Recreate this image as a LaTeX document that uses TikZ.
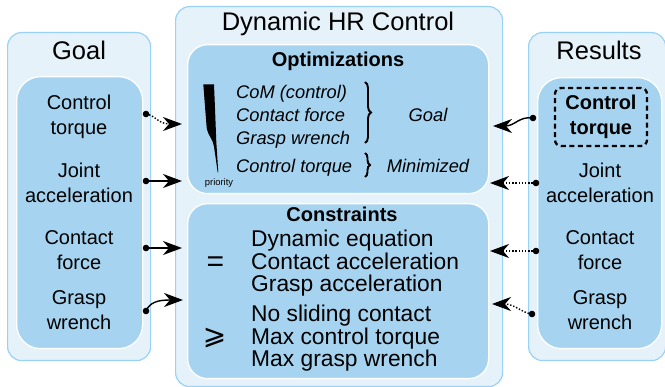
\documentclass[tikz,border=0pt]{standalone}
\usepackage{amssymb}
\usepackage{fontspec}
\setmainfont{Liberation Sans}
\newfontfamily\symfont{DejaVu Sans}
\usetikzlibrary{arrows.meta,decorations.pathreplacing}

\definecolor{panelfill}{HTML}{E6F2FA}
\definecolor{panelline}{HTML}{99D2F5}
\definecolor{cardfill}{HTML}{A6D4F0}

\begin{document}
\begin{tikzpicture}[x=1pt,y=-1pt,
  panel/.style={draw=panelline, fill=panelfill, line width=1.2pt,
    rounded corners=14pt, anchor=north west, inner sep=0pt},
  card/.style={draw=white, fill=cardfill, line width=1.3pt,
    rounded corners=24pt, anchor=north west, inner sep=0pt},
  heading/.style={font=\fontsize{25.5}{30}\selectfont, anchor=base, inner sep=0pt},
  item/.style={font=\fontsize{20}{25}\selectfont, align=center, anchor=base, inner sep=0pt},
  cardtitle/.style={font=\fontsize{20}{24}\selectfont\bfseries, anchor=base, inner sep=0pt},
  objective/.style={font=\fontsize{18.3}{23}\selectfont\itshape, align=left, anchor=base west, inner sep=0pt},
  tag/.style={font=\fontsize{18.3}{23}\selectfont\itshape, anchor=base, inner sep=0pt},
  relation/.style={font=\fontsize{22.8}{22.5}\selectfont, align=left, anchor=base west, inner sep=0pt},
  dashbox/.style={draw=black, line width=2.3pt, dash pattern=on 5pt off 3.5pt,
    rounded corners=6pt, minimum width=92pt, minimum height=58pt, align=center,
    font=\fontsize{20}{25}\selectfont\bfseries, inner sep=0pt},
  link/.style={line width=1.4pt, -{Stealth[length=19pt,width=14pt,inset=6pt]}},
  dotlink/.style={link, dash pattern=on 1.4pt off 1.8pt},
  dot/.style={fill=black},
  bracket/.style={decorate, decoration={brace, amplitude=6pt}, line width=1.9pt}
]
\useasboundingbox (0,0) rectangle (665,387);

% panels
\node[panel, minimum width=143pt, minimum height=328pt] (goal) at (7,32) {};
\node[card,  minimum width=126pt, minimum height=272pt] (goalcard) at (16,76) {};
\node[panel, minimum width=327pt, minimum height=380pt] (dyn) at (175,6) {};
\node[card,  rounded corners=20pt, minimum width=301pt, minimum height=149pt] (opt) at (187,44) {};
\node[card,  rounded corners=20pt, minimum width=301pt, minimum height=175pt] (cons) at (187,203) {};
\node[panel, minimum width=137pt, minimum height=328pt] (res) at (528,32) {};
\node[card,  minimum width=124pt, minimum height=271pt] (rescard) at (537,77) {};

% headings
\node[heading] (goalT) at (79,60) {Goal};
\node[heading] (dynT) at (338,31) {Dynamic HR Control};
\node[heading] (resT) at (599,60) {Results};

% goal items (anchored at the baseline of their last line)
\node[item] (gTau) at (79,135) {Control\\torque};
\node[item] (gAcc) at (79,203) {Joint\\acceleration};
\node[item] (gFc)  at (79,270) {Contact\\force};
\node[item] (gW)   at (79,330) {Grasp\\wrench};

% result items
\node[dashbox] (rTau) at (601,117) {Control\\torque};
\node[item] (rAcc) at (600,203) {Joint\\acceleration};
\node[item] (rFc)  at (600,270) {Contact\\force};
\node[item] (rW)   at (600,330) {Grasp\\wrench};

% optimizations
\node[cardtitle] (optT) at (338,67) {Optimizations};
\fill (203.3,84.3) -- (214,84.3) -- (215,108.3) -- (216.3,141.7) -- (218.3,172.5)
  -- (217.7,172.5) -- (215.7,158.3) -- (214,146.7) -- (212.7,141.7)
  -- (211,138.3) -- (208.3,133.3) -- (206.7,128.3) -- cycle;
\node[font=\fontsize{9.4}{11}\selectfont, anchor=base, inner sep=0pt] (prio) at (219,186) {priority};
\node[objective] (oList) at (236,145) {CoM (control)\\Contact force\\Grasp wrench};
\node[objective] (oTau) at (236,173) {Control torque};
\draw[bracket] (365,82) -- (365,143);
\draw[bracket, decoration={brace, amplitude=5pt}] (365,153) -- (365,177);
\node[tag] (oGoal) at (428,122) {Goal};
\node[tag] (oMin) at (428,173) {Minimized};

% constraints
\node[cardtitle] (consT) at (342,222) {Constraints};
\node[font=\fontsize{30}{30}\selectfont, inner sep=0pt] (eqS) at (215.5,264) {=};
\node[font=\symfont\fontsize{28}{28}\selectfont, inner sep=0pt] (geS) at (214.5,338) {⩾};
\node[relation] (cEq) at (251,292) {Dynamic equation\\Contact acceleration\\Grasp acceleration};
\node[relation] (cIn) at (251,367) {No sliding contact\\Max control torque\\Max grasp wrench};

% connector ends
\coordinate (g1) at (146,114); \coordinate (d1) at (182,124);
\coordinate (g2) at (146,181); \coordinate (d2) at (182,181);
\coordinate (g3) at (146,248); \coordinate (d3) at (182,248);
\coordinate (g4) at (146,311); \coordinate (d4) at (183,300);
\coordinate (r1) at (533,118); \coordinate (e1) at (493,126);
\coordinate (r2) at (536,183); \coordinate (e2) at (490,183);
\coordinate (r3) at (536,251); \coordinate (e3) at (490,251);
\coordinate (r4) at (532,314); \coordinate (e4) at (492,304);

% goal -> controller
\draw[dotlink] (g1) .. controls (155,115) and (158,124) .. (d1);
\draw[link] (g2) -- (d2);
\draw[link] (g3) -- (d3);
\draw[link] (g4) .. controls (150,302) and (158,300) .. (d4);

% results -> controller
\draw[link] (r1) .. controls (519,116) and (515,126) .. (e1);
\draw[dotlink] (r2) -- (e2);
\draw[dotlink] (r3) -- (e3);
\draw[dotlink] (r4) .. controls (522,313) and (515,304) .. (e4);

\foreach \p in {g1,g2,g3,g4,r1,r2,r3,r4} \fill[dot] (\p) circle (3.3pt);
\end{tikzpicture}
\end{document}
